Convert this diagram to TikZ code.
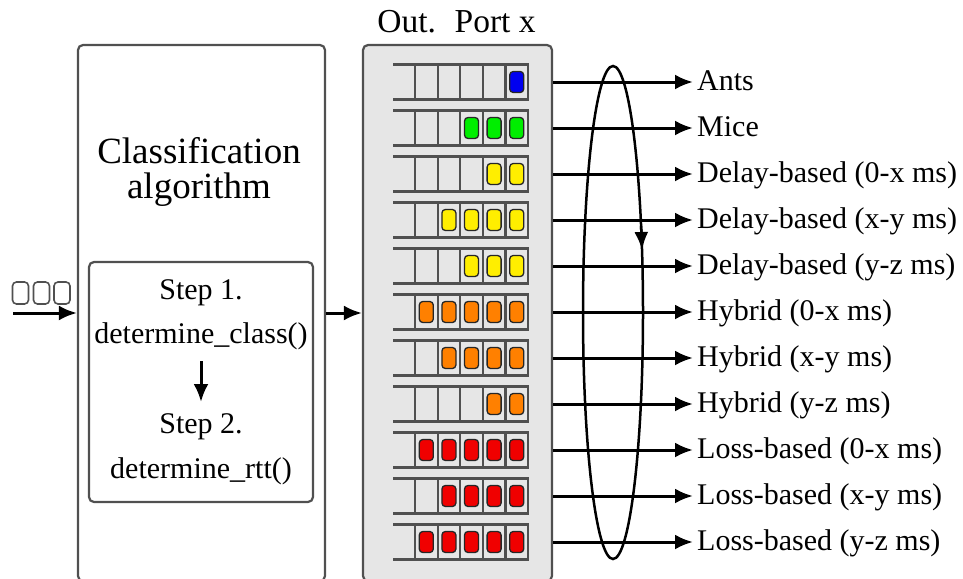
\documentclass[tikz,border=0pt]{standalone}
\usepackage{fontspec}
\setmainfont{Liberation Serif}
\usetikzlibrary{arrows.meta,shapes.geometric}
\definecolor{edge}{HTML}{505050}
\definecolor{portfill}{HTML}{E6E6E6}
\definecolor{pktblue}{HTML}{0000F0}
\definecolor{pktgreen}{HTML}{00EE00}
\definecolor{pktyellow}{HTML}{FFEE00}
\definecolor{pktorange}{HTML}{FF8000}
\definecolor{pktred}{HTML}{F00000}
\tikzset{
  box/.style={draw=edge, line width=2.2pt, rounded corners=5pt, inner sep=0pt},
  arr/.style={line width=3pt, -{Latex[length=18pt,width=15pt]}},
  pkt/.style={draw=black!85, line width=1.3pt, rounded corners=3.5pt,
    minimum width=14pt, minimum height=21pt, inner sep=0pt},
  inpkt/.style={draw=edge, line width=1.6pt, rounded corners=4pt,
    minimum width=16pt, minimum height=22pt, inner sep=0pt},
  cellline/.style={draw=edge, line width=2.2pt},
  lbl/.style={font=\rmfamily\fontsize{30}{36}\selectfont, anchor=base west,
    inner xsep=4pt, inner ysep=0pt},
  steptext/.style={font=\rmfamily\fontsize{30}{36}\selectfont, anchor=base, inner sep=0pt},
  bigtext/.style={font=\rmfamily\fontsize{37}{44}\selectfont, anchor=base, inner sep=0pt},
}
\begin{document}
\begin{tikzpicture}[x=1pt,y=-1pt]
\clip (0,0) rectangle (963,578);

% classifier block
\node[box, fill=white, minimum width=247pt, minimum height=536pt] (clsbox) at (201.5,313) {};
\node[bigtext] (ttl1) at (199,163) {Classification};
\node[bigtext] (ttl2) at (199,198) {algorithm};

\node[box, fill=white, minimum width=224pt, minimum height=240pt] (stepbox) at (201,382) {};
\node[steptext] (s1) at (201,299) {Step 1.};
\node[steptext] (s1code) at (201,343) {determine\_class()};
\node[steptext] (s2) at (201,433) {Step 2.};
\node[steptext] (s2code) at (201,478) {determine\_rtt()};
\draw[arr] ([yshift=-18pt]s1code.base) -- ([yshift=31pt]s2.base);

% incoming packets
\node[inpkt] (in1) at (20.5,293) {};
\node[inpkt] (in2) at (41.5,293) {};
\node[inpkt] (in3) at (62,293) {};
\coordinate (src) at (13,313);
\draw[arr] (src) -- (clsbox.west);

% output port with its queues
\node[box, fill=portfill, minimum width=189pt, minimum height=536pt] (portbox) at (457.5,313) {};
\node[font=\rmfamily\fontsize{33.5}{40}\selectfont, anchor=base, inner sep=0pt] (porttitle) at (456.5,33) {Out.\hspace{0.56em}Port x};
\draw[arr] (clsbox.east) -- (portbox.west);

\foreach \n/\col/\txt [count=\i from 0] in {
  1/pktblue/Ants,
  3/pktgreen/Mice,
  2/pktyellow/{Delay-based (0-x ms)},
  4/pktyellow/{Delay-based (x-y ms)},
  3/pktyellow/{Delay-based (y-z ms)},
  5/pktorange/{Hybrid (0-x ms)},
  4/pktorange/{Hybrid (x-y ms)},
  2/pktorange/{Hybrid (y-z ms)},
  5/pktred/{Loss-based (0-x ms)},
  4/pktred/{Loss-based (x-y ms)},
  5/pktred/{Loss-based (y-z ms)}} {
  \pgfmathsetmacro\yc{82+46*\i}
  \coordinate (row\i) at (528,\yc);
  \draw[cellline] (393,\yc-17.5) -- (528,\yc-17.5) -- (528,\yc+17.5) -- (393,\yc+17.5);
  \foreach \k in {0,...,4}
    \draw[cellline] (415+22.6*\k,\yc-17.5) -- (415+22.6*\k,\yc+17.5);
  \foreach \k in {1,...,\n}
    \node[pkt, fill=\col] (p\i-\k) at (539.3-22.6*\k,\yc) {};
  \node[lbl] (lab\i) at (693,\yc+8) {\txt};
  \draw[arr] (portbox.east |- row\i) -- (lab\i.west |- row\i);
}

% round-robin scheduler loop
\node[draw, ellipse, line width=2.5pt, minimum width=60pt, minimum height=493pt, inner sep=0pt] (loop) at (613,312.5) {};
\draw[line width=2.5pt, -{Latex[length=18pt,width=14pt]}] (641.1,226) -- (642,250);
\end{tikzpicture}
\end{document}
